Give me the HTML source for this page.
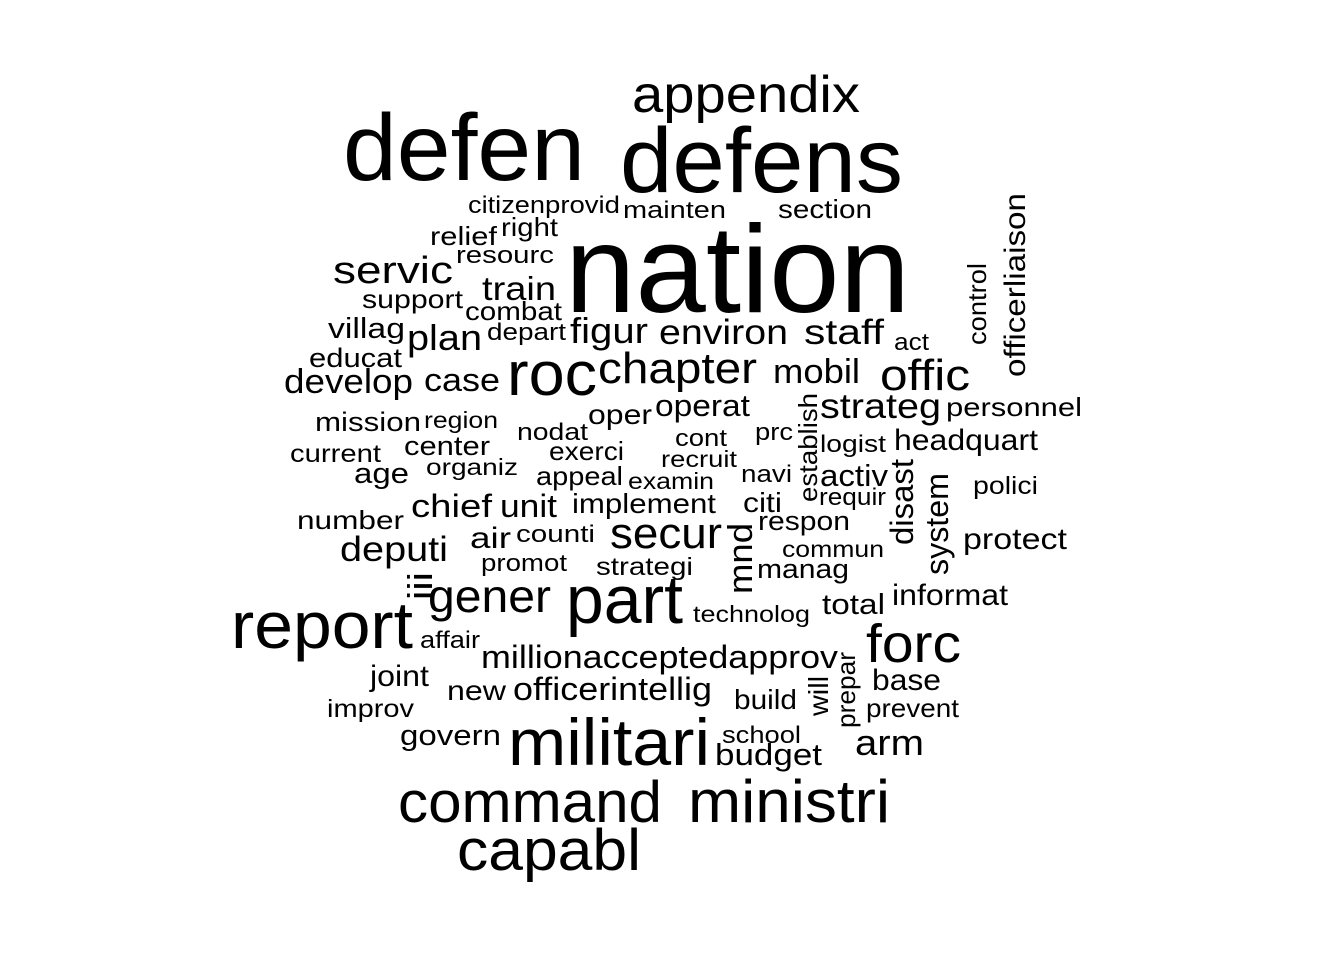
<!DOCTYPE html>
<html><head><meta charset="utf-8"><style>
html,body{margin:0;padding:0;background:#fff;}
svg{display:block;}
text{font-family:"Liberation Sans",Arial,sans-serif;fill:#000;}
</style></head><body>
<svg id="cloud" width="1344" height="960" viewBox="0 0 1344 960" xmlns="http://www.w3.org/2000/svg"></svg>
<script>
// words: [word, x-left, x-right, baseline-y, font-size]
const words = [
["appendix",632,860,112,52],["defen",343,585,180,95],["defens",620,903,192,92],
["citizen",468,545,213,24],["provid",545,620,213,24],["mainten",623,726,218,24],["section",778,872,218,26],
["relief",430,497,245,26],["right",501,558,236,26],["resourc",456,554,263,24],
["nation",565,910,312,124],["servic",333,453,283,38],["train",482,556,300,33],
["support",362,463,308,26],["combat",465,562,320,26],["villag",328,405,338,29],
["plan",407,482,350,36],["depart",487,566,340,24],["figur",570,648,343,36],
["environ",659,788,344,35],["staff",804,884,344,35],["act",894,929,350,24],
["educat",309,402,367,27],["develop",284,413,393,34],["case",424,500,391,32],
["roc",507,597,395,62],["chapter",598,757,383,44],["mobil",773,860,383,34],["offic",880,970,390,44],
["strateg",820,941,418,35],["personnel",946,1082,416,26],["mission",315,421,431,27],
["region",424,498,428,23],["nodat",517,588,440,24],["oper",588,652,424,28],["operat",655,750,416,31],
["cont",675,727,446,24],["prc",755,793,440,24],["current",290,381,462,25],["center",404,490,455,27],
["exerci",549,624,460,26],["recruit",661,737,467,23],["logist",820,886,452,24],["headquart",894,1038,450,30],
["age",354,409,483,29],["organiz",426,518,475,23],["appeal",536,623,485,26],["examin",628,714,489,23],
["navi",741,792,482,24],["activ",820,888,486,31],["requir",819,886,505,24],["polici",973,1038,494,25],
["chief",411,492,517,32],["unit",500,557,517,32],["implement",572,716,513,28],["citi",743,782,512,28],
["respon",758,850,530,27],["number",297,404,529,26],["air",470,511,548,30],["counti",516,595,542,24],
["secur",610,722,548,44],["commun",782,884,557,23],["deputi",340,448,561,35],["promot",481,567,571,24],
["strategi",596,693,575,25],["manag",757,849,578,27],["protect",963,1067,549,30],
["gener",428,551,612,46],["part",566,683,623,68],["technolog",693,810,622,23],["total",822,885,614,29],
["informat",892,1008,605,30],["report",231,413,648,66],["affair",420,480,648,24],["forc",866,961,662,54],
["millionacceptedapprov",481,838,668,32],["base",872,941,690,30],["joint",370,429,686,30],
["new",447,506,700,28],["officerintellig",513,712,700,32],["build",734,797,709,28],["prevent",866,959,717,26],
["improv",327,414,717,25],["school",722,801,743,24],["govern",400,501,745,29],["militari",508,710,765,66],
["budget",715,822,765,31],["arm",855,924,755,36],["command",398,662,822,58],["ministri",688,890,822,60],
["capabl",457,641,870,58]
];
// vertical words: [word, baseline-x, y-top, y-bottom, font-size]
const vwords = [
["officerliaison",1025,193,377,30],["control",986,263,345,26],["establish",817,393,502,26],
["mnd",752,523,594,34],["disast",913,459,545,32],["system",948,473,575,32],
["will",828,676,716,28],["prepar",855,652,728,26],["iii",432,572,600,34]
];
const svg = document.getElementById('cloud');
const NS = 'http://www.w3.org/2000/svg';
words.forEach(w => {
  const t = document.createElementNS(NS,'text');
  t.setAttribute('x', w[1]);
  t.setAttribute('y', w[3]);
  t.setAttribute('font-size', w[4]);
  t.setAttribute('textLength', w[2]-w[1]);
  t.setAttribute('lengthAdjust', 'spacingAndGlyphs');
  t.textContent = w[0];
  
  
  svg.appendChild(t);
});
vwords.forEach(w => {
  const t = document.createElementNS(NS,'text');
  t.setAttribute('transform', 'translate(' + w[1] + ',' + w[3] + ') rotate(-90)');
  t.setAttribute('font-size', w[4]);
  t.setAttribute('textLength', w[3]-w[2]);
  t.setAttribute('lengthAdjust', 'spacingAndGlyphs');
  t.textContent = w[0];
  
  
  svg.appendChild(t);
});
</script>
</body></html>
